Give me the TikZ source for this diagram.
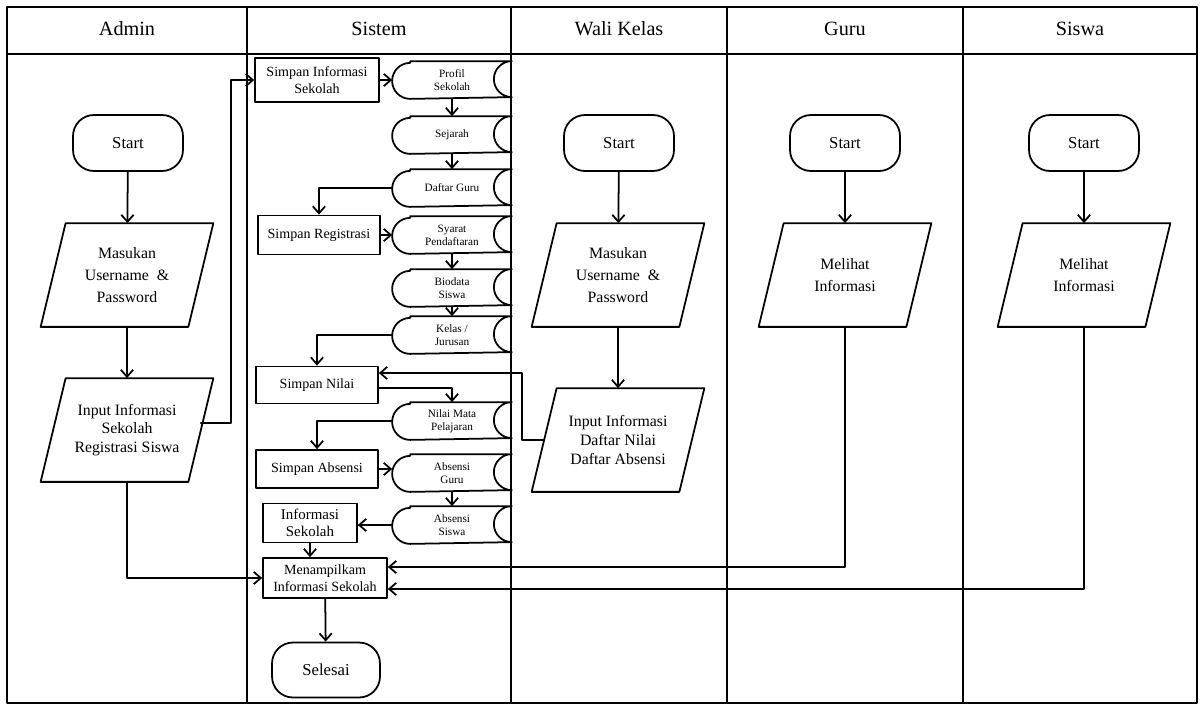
\documentclass[tikz,border=0pt]{standalone}
\usepackage{fontspec}
\setmainfont{Liberation Serif}
\usepackage{tikz}
\usetikzlibrary{calc}
\usetikzlibrary{arrows.meta}

\begin{document}
\begin{tikzpicture}[x=0.02cm, y=-0.02cm, line width=1pt, line cap=round, line join=round,
    >={Straight Barb[length=4pt,width=7pt]},
    header/.style={font=\fontsize{11.5}{13}\selectfont},
    terminal/.style={draw, rectangle, rounded corners=0.42cm, minimum width=2.2cm, minimum height=1.12cm, font=\fontsize{9.5}{11}\selectfont},
    inputdata/.style={rectangle, minimum width=2.92cm, minimum height=2.04cm, inner sep=0pt, align=center, font=\fontsize{9}{12.5}\selectfont},
    process/.style={draw, rectangle, inner sep=1pt, align=center, font=\fontsize{8}{9.5}\selectfont},
    datatext/.style={rectangle, minimum width=2.36cm, minimum height=0.72cm, inner sep=0pt, align=center, font=\fontsize{6.4}{7.4}\selectfont}]
  \useasboundingbox (0,0) rectangle (1201,704);
  %--- Tabel
    \draw (7,7) rectangle (1197,703);
    \draw (7,54) -- (1197,54);
    \foreach \xx in {247,511,727,963} \draw (\xx,7) -- (\xx,703);
    \node[header] (hAdmin) at (127,29) {Admin};
    \node[header] (hSistem) at (379,29) {Sistem};
    \node[header] (hWali) at (619,29) {Wali Kelas};
    \node[header] (hGuru) at (845,29) {Guru};
    \node[header] (hSiswa) at (1080,29) {Siswa};
  %--- Admin
    \node[terminal] (startAdm) at (128,143) {Start};
    \node[inputdata] (loginAdm) at (127,275) {Masukan\\Username \ \&\\Password};
    \node[inputdata, font=\fontsize{9}{10.5}\selectfont] (inAdm) at (127,430) {Input Informasi\\Sekolah\\Registrasi Siswa};
  %--- Sistem
    \node[process, minimum width=2.48cm, minimum height=0.88cm] (simInfo) at (317,80) {Simpan Informasi\\Sekolah};
    \node[process, minimum width=2.44cm, minimum height=0.78cm] (simReg) at (319,235) {Simpan Registrasi};
    \node[process, minimum width=2.44cm, minimum height=0.74cm] (simNilai) at (317,385) {Simpan Nilai};
    \node[process, minimum width=2.44cm, minimum height=0.76cm] (simAbs) at (317,469) {Simpan Absensi};
    \node[process, minimum width=1.88cm, minimum height=0.78cm, font=\fontsize{8.5}{10}\selectfont] (info) at (310,523) {Informasi\\Sekolah};
    \node[process, minimum width=2.48cm, minimum height=0.8cm] (tampil) at (325,578) {Menampilkam\\Informasi Sekolah};
    \node[terminal, minimum width=2.16cm, minimum height=1.1cm] (selesai) at (326,670) {Selesai};
    \foreach \nm/\yy/\txt in {profil/80/{Profil\\Sekolah}, sejarah/135/Sejarah, daftarguru/188/Daftar Guru,
        syarat/235/{Syarat\\Pendaftaran}, biodata/288/{Biodata\\Siswa}, kelas/335/{Kelas /\\Jurusan},
        nilai/421/{Nilai Mata\\Pelajaran}, absguru/473/{Absensi\\Guru}, abssiswa/525/{Absensi\\Siswa}} {
      \node[datatext] (\nm) at (452,\yy) {\txt};
      \draw ([xshift=0.36cm]\nm.north west) -- (\nm.north east) arc[start angle=90, end angle=270, radius=0.36cm]
        -- ([xshift=0.36cm]\nm.south west) arc[start angle=270, end angle=90, radius=0.36cm] -- cycle;
    }
  %--- Wali Kelas
    \node[terminal] (startWali) at (619,143) {Start};
    \node[inputdata] (loginWali) at (618,275) {Masukan\\Username \ \&\\Password};
    \node[inputdata, font=\fontsize{9}{10.8}\selectfont] (inWali) at (618,440) {Input Informasi\\Daftar Nilai\\Daftar Absensi};
  %--- Guru
    \node[terminal] (startGuru) at (845,143) {Start};
    \node[inputdata] (lihatGuru) at (845,275) {Melihat\\Informasi};
  %--- Siswa
    \node[terminal] (startSiswa) at (1084,143) {Start};
    \node[inputdata] (lihatSiswa) at (1084,275) {Melihat\\Informasi};
  %--- Jajaran genjang
    \foreach \nm in {loginAdm,inAdm,loginWali,inWali,lihatGuru,lihatSiswa}
      \draw ([xshift=0.25cm]\nm.north west) -- ([xshift=0.25cm]\nm.north east)
        -- ([xshift=-0.25cm]\nm.south east) -- ([xshift=-0.25cm]\nm.south west) -- cycle;
  %--- Panah
    \draw[->] (startAdm) -- (loginAdm);
    \draw[->] (loginAdm) -- (inAdm);
    \draw[->] ([yshift=0.14cm]inAdm.east) -- ++(30,0) |- (simInfo.west);
    \draw[->] (inAdm.south) |- (tampil.west);
    \draw[->] (simInfo) -- (profil);
    \draw[->] (profil) -- (sejarah);
    \draw[->] (sejarah) -- (daftarguru);
    \draw[->] (daftarguru.west) -| (simReg.north);
    \draw[->] (simReg) -- (syarat);
    \draw[->] (syarat) -- (biodata);
    \draw[->] (biodata) -- (kelas);
    \draw[->] (kelas.west) -| (simNilai.north);
    \draw[->] (inWali.west) -- ++(-22,0) |- ([yshift=0.24cm]simNilai.east);
    \draw[->] ([yshift=-0.06cm]simNilai.east) -| (nilai.north);
    \draw[->] (nilai.west) -| (simAbs.north);
    \draw[->] (simAbs.east) -- (simAbs.east -| absguru.west);
    \draw[->] (absguru) -- (abssiswa);
    \draw[->] (abssiswa.west) -- (abssiswa.west -| info.east);
    \draw[->] (info.south) -- (info.south |- tampil.north);
    \draw[->] (tampil) -- (selesai);
    \draw[->] (startWali) -- (loginWali);
    \draw[->] (loginWali) -- (inWali);
    \draw[->] (startGuru) -- (lihatGuru);
    \draw[->] (lihatGuru.south) |- ([yshift=0.22cm]tampil.east);
    \draw[->] (startSiswa) -- (lihatSiswa);
    \draw[->] (lihatSiswa.south) |- ([yshift=-0.22cm]tampil.east);
  %---
\end{tikzpicture}
\end{document}
